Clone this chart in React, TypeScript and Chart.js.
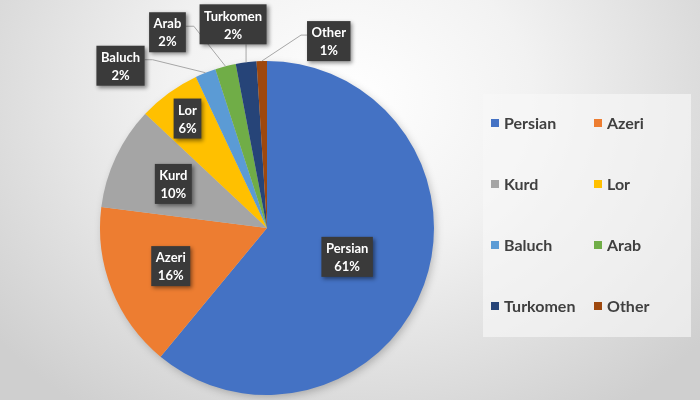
import React, { useEffect, useRef } from "react";
import { Chart, registerables } from "chart.js";

Chart.register(...registerables);

const categories = ["Persian", "Azeri", "Kurd", "Lor", "Baluch", "Arab", "Turkomen", "Other"];
const shares = [61, 16, 10, 6, 2, 2, 2, 1];
const sliceColors = ["#4472C4", "#ED7D31", "#A5A5A5", "#FFC000", "#5B9BD5", "#70AD47", "#264478", "#9E480E"];

// label placement: "in" = along the mid-angle at fraction of radius, "out" = offset from the rim point
const labelPlacement: any[] = [
  { mode: "in", r: 0.51 },
  { mode: "in", r: 0.62 },
  { mode: "in", r: 0.62 },
  { mode: "in", r: 0.81 },
  { mode: "out", dx: -85, dy: -7 },
  { mode: "out", dx: -58, dy: -34 },
  { mode: "out", dx: -13, dy: -38 },
  { mode: "out", dx: 67, dy: -20 },
];

const FONT = "bold 13px Lato, 'Open Sans', sans-serif";
const LEGEND_FONT = "bold 16px Lato, 'Open Sans', sans-serif";

const pieShadowPlugin = {
  id: "pieShadow",
  beforeDatasetsDraw(chart: any) {
    const meta = chart.getDatasetMeta(0);
    const a = meta.data[0];
    if (!a) return;
    const ctx = chart.ctx;
    ctx.save();
    ctx.shadowColor = "rgba(0,0,0,0.25)";
    ctx.shadowBlur = 8;
    ctx.shadowOffsetX = 2;
    ctx.shadowOffsetY = 3;
    ctx.fillStyle = "#cccccc";
    ctx.beginPath();
    ctx.arc(a.x, a.y, a.outerRadius - 1, 0, Math.PI * 2);
    ctx.fill();
    ctx.restore();
  },
};

const calloutPlugin = {
  id: "callouts",
  afterDatasetsDraw(chart: any) {
    const ctx = chart.ctx;
    const meta = chart.getDatasetMeta(0);
    const labels = chart.data.labels;
    const values = chart.data.datasets[0].data;
    ctx.save();
    ctx.font = FONT;
    const boxes: any[] = [];
    meta.data.forEach((arc: any, i: number) => {
      const mid = (arc.startAngle + arc.endAngle) / 2;
      const p = labelPlacement[i];
      const line1 = String(labels[i]);
      const line2 = values[i] + "%";
      const w = Math.max(ctx.measureText(line1).width, ctx.measureText(line2).width) + 9;
      const h = 40;
      let cx: number, cy: number;
      let anchor: any = null;
      if (p.mode === "in") {
        cx = arc.x + Math.cos(mid) * arc.outerRadius * p.r;
        cy = arc.y + Math.sin(mid) * arc.outerRadius * p.r;
      } else {
        const ax = arc.x + Math.cos(mid) * arc.outerRadius;
        const ay = arc.y + Math.sin(mid) * arc.outerRadius;
        anchor = { x: ax, y: ay };
        cx = ax + p.dx;
        cy = ay + p.dy;
      }
      boxes.push({ cx, cy, w, h, line1, line2, anchor });
    });
    // leader lines
    ctx.strokeStyle = "#a6a6a6";
    ctx.lineWidth = 1;
    boxes.forEach((b) => {
      if (!b.anchor) return;
      const left = b.cx - b.w / 2;
      const right = b.cx + b.w / 2;
      const bottom = b.cy + b.h / 2;
      const a = b.anchor;
      ctx.beginPath();
      if (a.y > bottom && a.x >= left && a.x <= right) {
        ctx.moveTo(a.x, bottom);
        ctx.lineTo(a.x, a.y);
      } else if (a.x > right) {
        ctx.moveTo(right, b.cy - 6);
        ctx.lineTo(right + 8, b.cy - 6);
        ctx.lineTo(a.x, a.y);
      } else {
        ctx.moveTo(left, b.cy - 6);
        ctx.lineTo(left - 6, b.cy - 6);
        ctx.lineTo(a.x, a.y);
      }
      ctx.stroke();
    });
    // boxes
    boxes.forEach((b) => {
      ctx.save();
      ctx.shadowColor = "rgba(0,0,0,0.45)";
      ctx.shadowBlur = 4;
      ctx.shadowOffsetX = 2;
      ctx.shadowOffsetY = 2;
      ctx.fillStyle = "#3a3a3a";
      ctx.fillRect(b.cx - b.w / 2, b.cy - b.h / 2, b.w, b.h);
      ctx.restore();
      ctx.fillStyle = "#ffffff";
      ctx.textAlign = "center";
      ctx.textBaseline = "middle";
      ctx.fillText(b.line1, b.cx, b.cy - 8);
      ctx.fillText(b.line2, b.cx, b.cy + 10);
    });
    ctx.restore();
  },
};

const legendPlugin = {
  id: "gridLegend",
  afterDraw(chart: any) {
    const ctx = chart.ctx;
    const labels = chart.data.labels;
    const colors = chart.data.datasets[0].backgroundColor;
    ctx.save();
    ctx.fillStyle = "rgba(248,248,248,0.65)";
    ctx.fillRect(483, 94, 208, 243);
    ctx.font = LEGEND_FONT;
    ctx.textBaseline = "middle";
    ctx.textAlign = "left";
    const colX = [491, 594];
    const rowY = [123, 184, 245, 306];
    labels.forEach((lab: string, i: number) => {
      const x = colX[i % 2];
      const y = rowY[Math.floor(i / 2)];
      ctx.fillStyle = colors[i];
      ctx.fillRect(x, y - 4, 8, 8);
      ctx.fillStyle = "#404040";
      ctx.fillText(lab, x + 13, y + 1);
    });
    ctx.restore();
  },
};

export default function App() {
  const ref = useRef<HTMLCanvasElement>(null);
  useEffect(() => {
    if (!ref.current) return;
    const chart = new Chart(ref.current, {
      type: "pie",
      data: {
        labels: categories,
        datasets: [
          {
            data: shares,
            backgroundColor: sliceColors,
            borderWidth: 0,
            hoverOffset: 0,
            offset: 0,
          },
        ],
      },
      options: {
        animation: false,
        responsive: false,
        layout: { padding: { left: 100, top: 61, right: 266, bottom: 5 } },
        plugins: { legend: { display: false }, tooltip: { enabled: false } },
      },
      plugins: [pieShadowPlugin, calloutPlugin, legendPlugin],
    });
    return () => chart.destroy();
  }, []);
  return (
    <div
      style={{
        position: "absolute",
        left: 0,
        top: 0,
        width: 700,
        height: 400,
        background: "radial-gradient(ellipse 65% 95% at 50% 25%, #ffffff 0%, #f2f2f2 40%, #cfcfcf 100%)",
      }}
    >
      <canvas ref={ref} width={700} height={400} />
    </div>
  );
}
